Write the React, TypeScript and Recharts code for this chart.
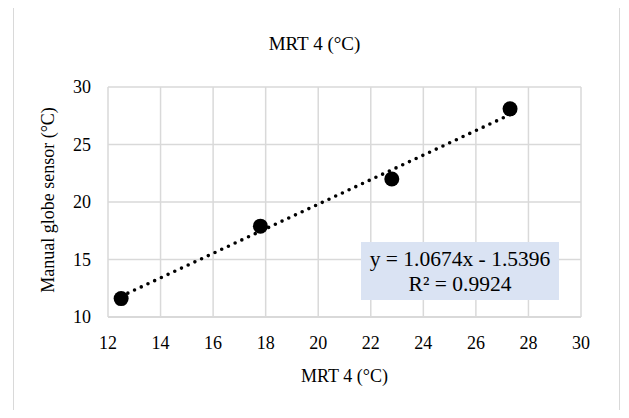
import {
  ScatterChart,
  Scatter,
  XAxis,
  YAxis,
  CartesianGrid,
  Label,
} from "recharts";

// measured points: MRT 4 vs manual globe sensor
const mrtValues = [12.5, 17.8, 22.8, 27.3];
const globeValues = [11.6, 17.9, 22.0, 28.1];

// linear trendline ends
const trendX = [12.5, 27.3];
const trendY = [11.8, 27.6];

const xTicks = [12, 14, 16, 18, 20, 22, 24, 26, 28, 30];
const yTicks = [10, 15, 20, 25, 30];

const chartTitle = "MRT 4 (°C)";
const xTitle = "MRT 4 (°C)";
const yTitle = "Manual globe sensor (°C)";
const equationLines = ["y = 1.0674x - 1.5396", "R² = 0.9924"];

const points = mrtValues.map((x, i) => ({ x, y: globeValues[i] }));
const trend = trendX.map((x, i) => ({ x, y: trendY[i] }));

const FONT = "Liberation Serif, DejaVu Serif, serif";
const GRID = "#d9d9d9";

export default function App() {
  return (
    <div style={{ position: "relative", width: 629, height: 418, margin: -8, overflow: "hidden", background: "#fff", fontFamily: FONT }}>
      <div
        style={{
          position: "absolute",
          left: 13,
          top: 5,
          width: 607,
          height: 430,
          border: `1px solid ${GRID}`,
          boxSizing: "border-box",
        }}
      />
      <div
        style={{
          position: "absolute",
          left: 0,
          width: 629,
          top: 32,
          textAlign: "center",
          fontFamily: FONT,
          fontSize: 19,
          color: "#000",
          lineHeight: "24px",
        }}
      >
        {chartTitle}
      </div>
      <ScatterChart
        width={629}
        height={418}
        margin={{ top: 87, right: 48, bottom: 0, left: 0 }}
        style={{ position: "absolute", left: 0, top: 0, fontFamily: FONT }}
      >
        <CartesianGrid stroke={GRID} strokeWidth={1.5} />
        <XAxis
          type="number"
          dataKey="x"
          domain={[12, 30]}
          ticks={xTicks}
          interval={0}
          height={101}
          axisLine={{ stroke: GRID, strokeWidth: 2 }}
          tickLine={false}
          tickSize={0}
          tickMargin={19}
          tick={{ fill: "#000", fontSize: 18, fontFamily: FONT }}
          allowDataOverflow
        >
          <Label value={xTitle} position="center" dy={8} style={{ fill: "#000", fontSize: 18, fontFamily: FONT }} />
        </XAxis>
        <YAxis
          type="number"
          dataKey="y"
          domain={[10, 30]}
          ticks={yTicks}
          interval={0}
          width={108}
          axisLine={false}
          tickLine={false}
          tickSize={0}
          tickMargin={17}
          tick={{ fill: "#000", fontSize: 18, fontFamily: FONT }}
          allowDataOverflow
        >
          <Label
            value={yTitle}
            angle={-90}
            position="center"
            dx={-6}
            dy={-2}
            style={{ fill: "#000", fontSize: 18, fontFamily: FONT, textAnchor: "middle" }}
          />
        </YAxis>
        <Scatter
          data={trend}
          line={{ stroke: "#000", strokeWidth: 3.6, strokeDasharray: "0 7.4", strokeLinecap: "round" }}
          shape={() => <g />}
          isAnimationActive={false}
        />
        <Scatter
          data={points}
          shape={(p: any) => <circle cx={p.cx} cy={p.cy} r={7.5} fill="#000" />}
          isAnimationActive={false}
        />
      </ScatterChart>
      <div
        style={{
          position: "absolute",
          left: 361,
          top: 242,
          width: 198,
          height: 58,
          background: "#dae3f3",
          fontFamily: FONT,
          fontSize: 21.5,
          color: "#000",
          textAlign: "center",
          lineHeight: "25px",
          paddingTop: 5,
          boxSizing: "border-box",
          whiteSpace: "nowrap",
        }}
      >
        {equationLines.map((t) => (
          <div key={t}>{t}</div>
        ))}
      </div>
    </div>
  );
}
